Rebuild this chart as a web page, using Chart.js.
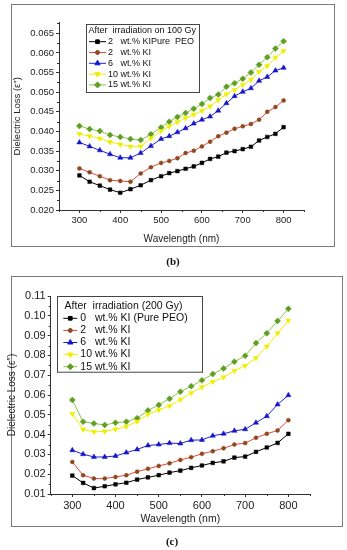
<!DOCTYPE html>
<html lang="en">
<head>
<meta charset="UTF-8">
<title>Dielectric loss after irradiation</title>
<script src="https://cdn.jsdelivr.net/npm/chart.js"></script>
<style>
  body { margin: 0; background: #fff; width: 347px; height: 550px; position: relative; overflow: hidden; }
  .frame { position: absolute; border: 1.5px solid #7a7a7a; box-sizing: border-box; }
  canvas { position: absolute; left: 0; }
  .caption { position: absolute; width: 40px; text-align: center; font: bold 11px "Liberation Serif", serif; color: #111; }
</style>
</head>
<body>
<div class="frame" style="left:11px;top:4px;width:324px;height:243px"></div>
<canvas id="chartB" width="347" height="260" style="top:0"></canvas>
<div class="caption" style="left:153px;top:255px">(b)</div>

<div class="frame" style="left:11px;top:276px;width:332px;height:251px"></div>
<canvas id="chartC" width="347" height="280" style="top:270px"></canvas>
<div class="caption" style="left:152px;top:535px">(c)</div>

<script>
// ---- data, panel (b): 100 Gy ----
const wavelengthB = [300, 325, 350, 375, 400, 425, 450, 475, 500, 520, 540, 560, 580, 600, 620, 640, 660, 680, 700, 720, 740, 760, 780, 800];
const pureB = [0.0288, 0.0272, 0.0262, 0.0252, 0.0244, 0.0253, 0.0263, 0.0276, 0.0286, 0.0294, 0.0299, 0.0305, 0.0311, 0.0320, 0.0330, 0.0336, 0.0346, 0.0350, 0.0355, 0.0361, 0.0377, 0.0386, 0.0394, 0.0411];
const ki2B  = [0.0306, 0.0296, 0.0286, 0.0276, 0.0274, 0.0272, 0.0293, 0.0309, 0.0320, 0.0325, 0.0332, 0.0345, 0.0351, 0.0362, 0.0374, 0.0388, 0.0397, 0.0407, 0.0413, 0.0419, 0.0430, 0.0450, 0.0462, 0.0479];
const ki6B  = [0.0372, 0.0362, 0.0352, 0.0342, 0.0333, 0.0333, 0.0345, 0.0363, 0.0381, 0.0388, 0.0398, 0.0408, 0.0420, 0.0430, 0.0438, 0.0453, 0.0472, 0.0490, 0.0501, 0.0510, 0.0529, 0.0539, 0.0555, 0.0562];
const ki10B = [0.0394, 0.0388, 0.0382, 0.0373, 0.0367, 0.0362, 0.0362, 0.0383, 0.0401, 0.0413, 0.0424, 0.0434, 0.0443, 0.0453, 0.0464, 0.0480, 0.0495, 0.0506, 0.0519, 0.0532, 0.0552, 0.0567, 0.0588, 0.0605];
const ki15B = [0.0414, 0.0406, 0.0401, 0.0391, 0.0386, 0.0381, 0.0378, 0.0393, 0.0410, 0.0425, 0.0437, 0.0447, 0.0458, 0.0470, 0.0485, 0.0494, 0.0514, 0.0523, 0.0534, 0.0550, 0.0570, 0.0589, 0.0611, 0.0630];
const labelsB = ['2   wt.% KIPure  PEO', '2   wt.% KI', '6   wt.% KI', '10 wt.% KI', '15 wt.% KI'];
const yTicksB = [0.020, 0.025, 0.030, 0.035, 0.040, 0.045, 0.050, 0.055, 0.060, 0.065];

// ---- data, panel (c): 200 Gy ----
const wavelengthC = [300, 325, 350, 375, 400, 425, 450, 475, 500, 525, 550, 575, 600, 625, 650, 675, 700, 725, 750, 775, 800];
const pureC = [0.0193, 0.0156, 0.0130, 0.0139, 0.0149, 0.0157, 0.0173, 0.0184, 0.0195, 0.0208, 0.0218, 0.0232, 0.0244, 0.0257, 0.0265, 0.0284, 0.0289, 0.0313, 0.0335, 0.0358, 0.0404];
const ki2C  = [0.0262, 0.0195, 0.0178, 0.0178, 0.0186, 0.0195, 0.0213, 0.0227, 0.0242, 0.0255, 0.0272, 0.0286, 0.0303, 0.0316, 0.0331, 0.0350, 0.0357, 0.0384, 0.0404, 0.0421, 0.0473];
const ki6C  = [0.0321, 0.0301, 0.0287, 0.0287, 0.0292, 0.0309, 0.0325, 0.0345, 0.0350, 0.0357, 0.0355, 0.0372, 0.0373, 0.0394, 0.0404, 0.0419, 0.0427, 0.0460, 0.0493, 0.0552, 0.0599];
const ki10C = [0.0505, 0.0426, 0.0414, 0.0416, 0.0427, 0.0441, 0.0466, 0.0503, 0.0524, 0.0545, 0.0577, 0.0610, 0.0640, 0.0667, 0.0690, 0.0722, 0.0748, 0.0787, 0.0845, 0.0912, 0.0976];
const ki15C = [0.0575, 0.0465, 0.0456, 0.0449, 0.0460, 0.0465, 0.0483, 0.0522, 0.0550, 0.0581, 0.0617, 0.0644, 0.0674, 0.0706, 0.0734, 0.0768, 0.0798, 0.0862, 0.0912, 0.0974, 0.1035];
const labelsC = ['0   wt.% KI (Pure PEO)', '2   wt.% KI', '6   wt.% KI', '10 wt.% KI', '15 wt.% KI'];
const yTicksC = [0.01, 0.02, 0.03, 0.04, 0.05, 0.06, 0.07, 0.08, 0.09, 0.10, 0.11];

const xTicks = [300, 400, 500, 600, 700, 800];

// marker / line look per series (same order in both panels)
const looks = [
    { line: '#000000', fill: '#000000', shape: 'rect',     rot: 0,   r: 2.6 },
    { line: '#e5483c', fill: '#8a4a1e', shape: 'circle',   rot: 0,   r: 2.0 },
    { line: '#2020d8', fill: '#1414c8', shape: 'triangle', rot: 0,   r: 3.0 },
    { line: '#f0f000', fill: '#eeee00', shape: 'triangle', rot: 180, r: 3.0 },
    { line: '#86c84a', fill: '#5e9e22', shape: 'rectRot',  rot: 0,   r: 3.0 }
];

const FONT = '"Liberation Sans", Arial, sans-serif';

function makeDatasets(xs, series, labels) {
    return series.map((ys, i) => ({
        label: labels[i],
        data: ys.map((v, j) => ({ x: xs[j], y: v })),
        borderColor: looks[i].line,
        backgroundColor: looks[i].fill,
        pointBackgroundColor: looks[i].fill,
        pointBorderColor: looks[i].fill,
        pointStyle: looks[i].shape,
        pointRotation: looks[i].rot,
        pointRadius: looks[i].r,
        pointBorderWidth: 0.5,
        borderWidth: 1,
        tension: 0
    }));
}

// short unlabeled ticks between the labeled ones
const minorTicks = {
    id: 'minorTicks',
    afterDraw(chart, args, o) {
        const ctx = chart.ctx, xs = chart.scales.x, ys = chart.scales.y;
        ctx.save();
        ctx.strokeStyle = '#333';
        ctx.lineWidth = 1;
        ctx.beginPath();
        for (let v = xs.min; v <= xs.max + 1e-9; v += o.xStep) {
            if (Math.abs(v / o.xMajor - Math.round(v / o.xMajor)) < 1e-6) continue;
            const px = Math.round(xs.getPixelForValue(v)) + 0.5;
            ctx.moveTo(px, xs.top);
            ctx.lineTo(px, xs.top + o.len);
        }
        for (let k = 0; ys.min + k * o.yStep <= ys.max + 1e-9; k++) {
            const v = ys.min + k * o.yStep;
            if (Math.abs(v / o.yMajor - Math.round(v / o.yMajor)) < 1e-6) continue;
            const py = Math.round(ys.getPixelForValue(v)) + 0.5;
            ctx.moveTo(ys.right, py);
            ctx.lineTo(ys.right - o.len, py);
        }
        ctx.stroke();
        ctx.restore();
    }
};

// boxed legend inside the plot, like the Origin original
const boxLegend = {
    id: 'boxLegend',
    afterDatasetsDraw(chart, args, o) {
        const ctx = chart.ctx, a = chart.chartArea;
        const x0 = Math.round(a.left + o.x), y0 = Math.round(a.top + o.y);
        ctx.save();
        ctx.fillStyle = '#fff';
        ctx.fillRect(x0, y0, o.w, o.h);
        ctx.strokeStyle = '#444';
        ctx.lineWidth = 1;
        ctx.strokeRect(x0 + 0.5, y0 + 0.5, o.w, o.h);
        ctx.font = o.fontSize + 'px ' + FONT;
        ctx.textBaseline = 'middle';
        ctx.textAlign = 'left';
        ctx.fillStyle = '#111';
        ctx.fillText(o.title, x0 + o.titleX, y0 + o.titleY);
        chart.data.datasets.forEach((ds, i) => {
            const ry = y0 + o.rowY + i * o.rowH;
            ctx.strokeStyle = ds.borderColor;
            ctx.lineWidth = 1;
            ctx.beginPath();
            ctx.moveTo(x0 + o.lineX0, ry);
            ctx.lineTo(x0 + o.lineX1, ry);
            ctx.stroke();
            ctx.fillStyle = ds.pointBackgroundColor;
            ctx.strokeStyle = ds.pointBorderColor;
            Chart.helpers.drawPoint(ctx, {
                pointStyle: ds.pointStyle, rotation: ds.pointRotation,
                radius: ds.pointRadius, borderWidth: 0.5
            }, x0 + (o.lineX0 + o.lineX1) / 2, ry);
            ctx.fillStyle = '#111';
            ctx.fillText(ds.label, x0 + o.textX, ry);
        });
        ctx.restore();
    }
};

function makeChart(id, cfg) {
    return new Chart(document.getElementById(id), {
        type: 'line',
        data: { datasets: cfg.datasets },
        plugins: [minorTicks, boxLegend],
        options: {
            responsive: false,
            animation: false,
            devicePixelRatio: 1,
            layout: { padding: cfg.padding },
            plugins: {
                legend: { display: false },
                tooltip: { enabled: false },
                minorTicks: cfg.minor,
                boxLegend: cfg.legend
            },
            scales: {
                x: {
                    type: 'linear',
                    min: 250, max: 850,
                    afterBuildTicks: s => { s.ticks = xTicks.map(v => ({ value: v })); },
                    afterFit: s => { s.height = cfg.xHeight; },
                    border: { color: '#333', width: 1 },
                    grid: { drawOnChartArea: false, drawTicks: true, tickLength: cfg.tickLen, color: '#333' },
                    ticks: { color: '#222', font: { family: FONT, size: cfg.tickSize }, padding: 2, maxRotation: 0 },
                    title: { display: true, text: 'Wavelength (nm)', color: '#222', font: { family: FONT, size: cfg.xTitleSize }, padding: { top: 4, bottom: 4 } }
                },
                y: {
                    type: 'linear',
                    min: cfg.yMin, max: cfg.yMax,
                    afterBuildTicks: s => { s.ticks = cfg.yTicks.map(v => ({ value: v })); },
                    afterFit: s => { s.width = cfg.yWidth; },
                    border: { color: '#333', width: 1 },
                    grid: { drawOnChartArea: false, drawTicks: true, tickLength: cfg.tickLen, color: '#333' },
                    ticks: { color: '#222', font: { family: FONT, size: cfg.tickSize }, padding: 2,
                             callback: v => v.toFixed(cfg.yDigits) },
                    title: { display: true, text: 'Dielectric Loss (\u03b5\u2033)', color: '#222', font: { family: FONT, size: cfg.yTitleSize }, padding: { top: 4, bottom: 4 } }
                }
            }
        }
    });
}

makeChart('chartB', {
    datasets: makeDatasets(wavelengthB, [pureB, ki2B, ki6B, ki10B, ki15B], labelsB),
    padding: { left: 8, top: 22.7, right: 43, bottom: 11 },
    xHeight: 39, yWidth: 51,
    yMin: 0.020, yMax: 0.0677, yTicks: yTicksB, yDigits: 3,
    tickLen: 3, tickSize: 9.5, xTitleSize: 10, yTitleSize: 9.5,
    minor: { xStep: 50, xMajor: 100, yStep: 0.0025, yMajor: 0.005, len: 2 },
    legend: { x: 27, y: 1.3, w: 113, h: 68, fontSize: 9,
              title: 'After  irradiation on 100 Gy', titleX: 2.5, titleY: 6.7,
              rowY: 17.7, rowH: 10.8, lineX0: 3, lineX1: 20, textX: 22 }
});

makeChart('chartC', {
    datasets: makeDatasets(wavelengthC, [pureC, ki2C, ki6C, ki10C, ki15C], labelsC),
    padding: { left: 2, top: 26, right: 37, bottom: 20.4 },
    xHeight: 35.6, yWidth: 48.7,
    yMin: 0.01, yMax: 0.11, yTicks: yTicksC, yDigits: 2,
    tickLen: 3, tickSize: 11, xTitleSize: 10.5, yTitleSize: 10,
    minor: { xStep: 50, xMajor: 100, yStep: 0.005, yMajor: 0.01, len: 2 },
    legend: { x: 6, y: 0, w: 145, h: 75.7, fontSize: 10.5,
              title: 'After  irradiation (200 Gy)', titleX: 7.6, titleY: 9.7,
              rowY: 22.3, rowH: 12.1, lineX0: 6.3, lineX1: 20.3, textX: 23.3 }
});
</script>
</body>
</html>
